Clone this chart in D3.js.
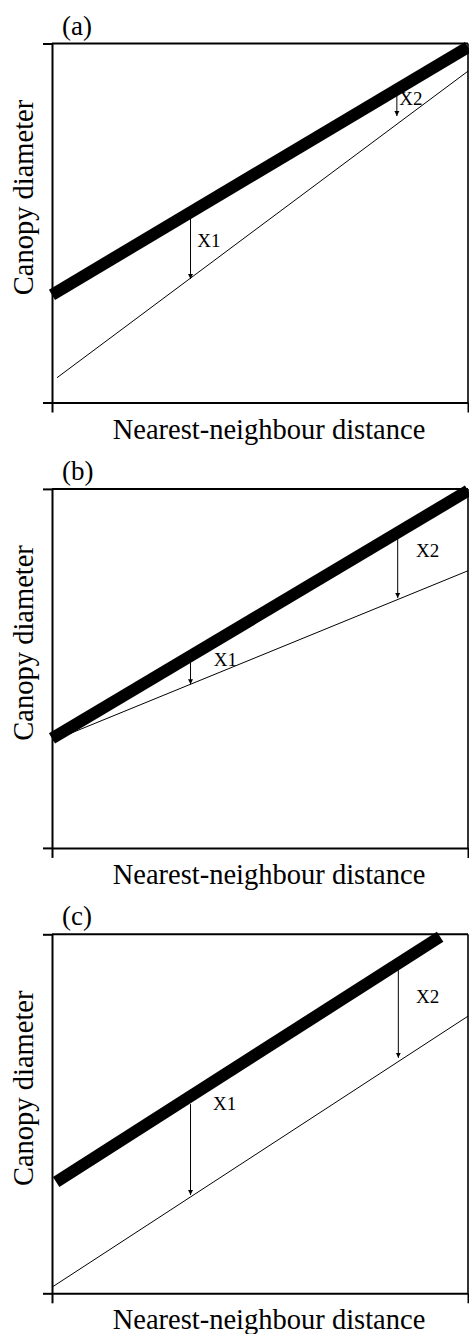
<!DOCTYPE html>
<html>
<head>
<meta charset="utf-8">
<script src="https://cdn.jsdelivr.net/npm/d3@7"></script>
<style>
  html, body { margin: 0; padding: 0; background: #fff; }
  svg { display: block; }
  text { font-family: "Liberation Serif", "Times New Roman", serif; fill: #000; }
</style>
</head>
<body>
<svg id="chart" width="469" height="1334"></svg>
<script>
// ---- data ----
const panelLabels = ["(a)", "(b)", "(c)"];
const xAxisTitle = "Nearest-neighbour distance";
const yAxisTitle = "Canopy diameter";
const axisTicks = [0, 1];

// thick line (x start/end, y start/end) per panel
const thickX = [[0, 1], [0, 1], [0.01, 0.933]];
const thickY = [[0.30, 0.99], [0.305, 0.995], [0.31, 0.993]];
// thin line per panel
const thinX = [[0.012, 1], [0, 1], [0, 1]];
const thinY = [[0.069, 0.923], [0.298, 0.772], [0.017, 0.772]];
// arrows per panel: [X1, X2]
const arrowNames = ["X1", "X2"];
const arrowX = [[0.333, 0.829], [0.333, 0.831], [0.333, 0.8325]];
const arrowFrom = [[0.514, 0.866], [0.515, 0.864], [0.527, 0.906]];
const arrowTo = [[0.344, 0.798], [0.456, 0.696], [0.274, 0.656]];
const arrowLabelX = [[0.349, 0.835], [0.389, 0.875], [0.387, 0.875]];
const arrowLabelY = [[0.434, 0.829], [0.507, 0.810], [0.510, 0.808]];

// ---- layout ----
const svg = d3.select("#chart");
const left = 52, right = 468, panelH = 359, firstTop = 43.5, step = 445.4;

svg.append("defs").append("marker")
  .attr("id", "ah")
  .attr("viewBox", "0 0 10 10")
  .attr("refX", 10).attr("refY", 5)
  .attr("markerWidth", 5).attr("markerHeight", 6)
  .attr("markerUnits", "userSpaceOnUse")
  .attr("orient", "auto")
  .append("path").attr("d", "M0,0 L10,5 L0,10 Z").attr("fill", "#000");

panelLabels.forEach((lab, i) => {
  const top = firstTop + i * step;
  const bottom = top + panelH;
  const x = d3.scaleLinear().domain([0, 1]).range([left, right]);
  const y = d3.scaleLinear().domain([0, 1]).range([bottom, top]);
  const g = svg.append("g");

  // axes with end ticks only
  const ax = g.append("g").attr("transform", `translate(0,${bottom})`)
    .call(d3.axisBottom(x).tickValues(axisTicks).tickSize(10).tickSizeOuter(0).tickFormat(""));
  const ay = g.append("g").attr("transform", `translate(${left},0)`)
    .call(d3.axisLeft(y).tickValues(axisTicks).tickSize(9).tickSizeOuter(0).tickFormat(""));
  [ax, ay].forEach(a => {
    a.select(".domain").attr("stroke", "#000").attr("stroke-width", 2);
    a.selectAll(".tick line").attr("stroke", "#000").attr("stroke-width", 2);
  });
  // top and right frame lines
  g.append("line").attr("x1", x(0)).attr("x2", x(1)).attr("y1", y(1)).attr("y2", y(1))
    .attr("stroke", "#000").attr("stroke-width", 2);
  g.append("line").attr("x1", x(1)).attr("x2", x(1)).attr("y1", y(1)).attr("y2", y(0))
    .attr("stroke", "#000").attr("stroke-width", 1.6);

  const line = d3.line().x(d => x(d[0])).y(d => y(d[1]));

  // thin line
  g.append("path")
    .attr("d", line(d3.zip(thinX[i], thinY[i])))
    .attr("fill", "none").attr("stroke", "#000").attr("stroke-width", 1);
  // thick line
  g.append("path")
    .attr("d", line(d3.zip(thickX[i], thickY[i])))
    .attr("fill", "none").attr("stroke", "#000").attr("stroke-width", 12)
    .attr("stroke-linecap", "butt");

  // arrows
  arrowNames.forEach((nm, j) => {
    g.append("line")
      .attr("x1", x(arrowX[i][j])).attr("x2", x(arrowX[i][j]))
      .attr("y1", y(arrowFrom[i][j])).attr("y2", y(arrowTo[i][j]))
      .attr("stroke", "#000").attr("stroke-width", 1)
      .attr("marker-end", "url(#ah)");
    g.append("text")
      .attr("x", x(arrowLabelX[i][j])).attr("y", y(arrowLabelY[i][j]))
      .attr("font-size", 19)
      .text(nm);
  });

  // panel label
  g.append("text").attr("x", 62).attr("y", top - 9)
    .attr("font-size", 27).text(lab);
  // axis titles
  g.append("text")
    .attr("x", 269).attr("y", bottom + 36)
    .attr("text-anchor", "middle").attr("font-size", 28.5)
    .text(xAxisTitle);
  g.append("text")
    .attr("transform", `translate(33,${top + 154}) rotate(-90)`)
    .attr("text-anchor", "middle").attr("font-size", 28.5)
    .text(yAxisTitle);
});
</script>
</body>
</html>
